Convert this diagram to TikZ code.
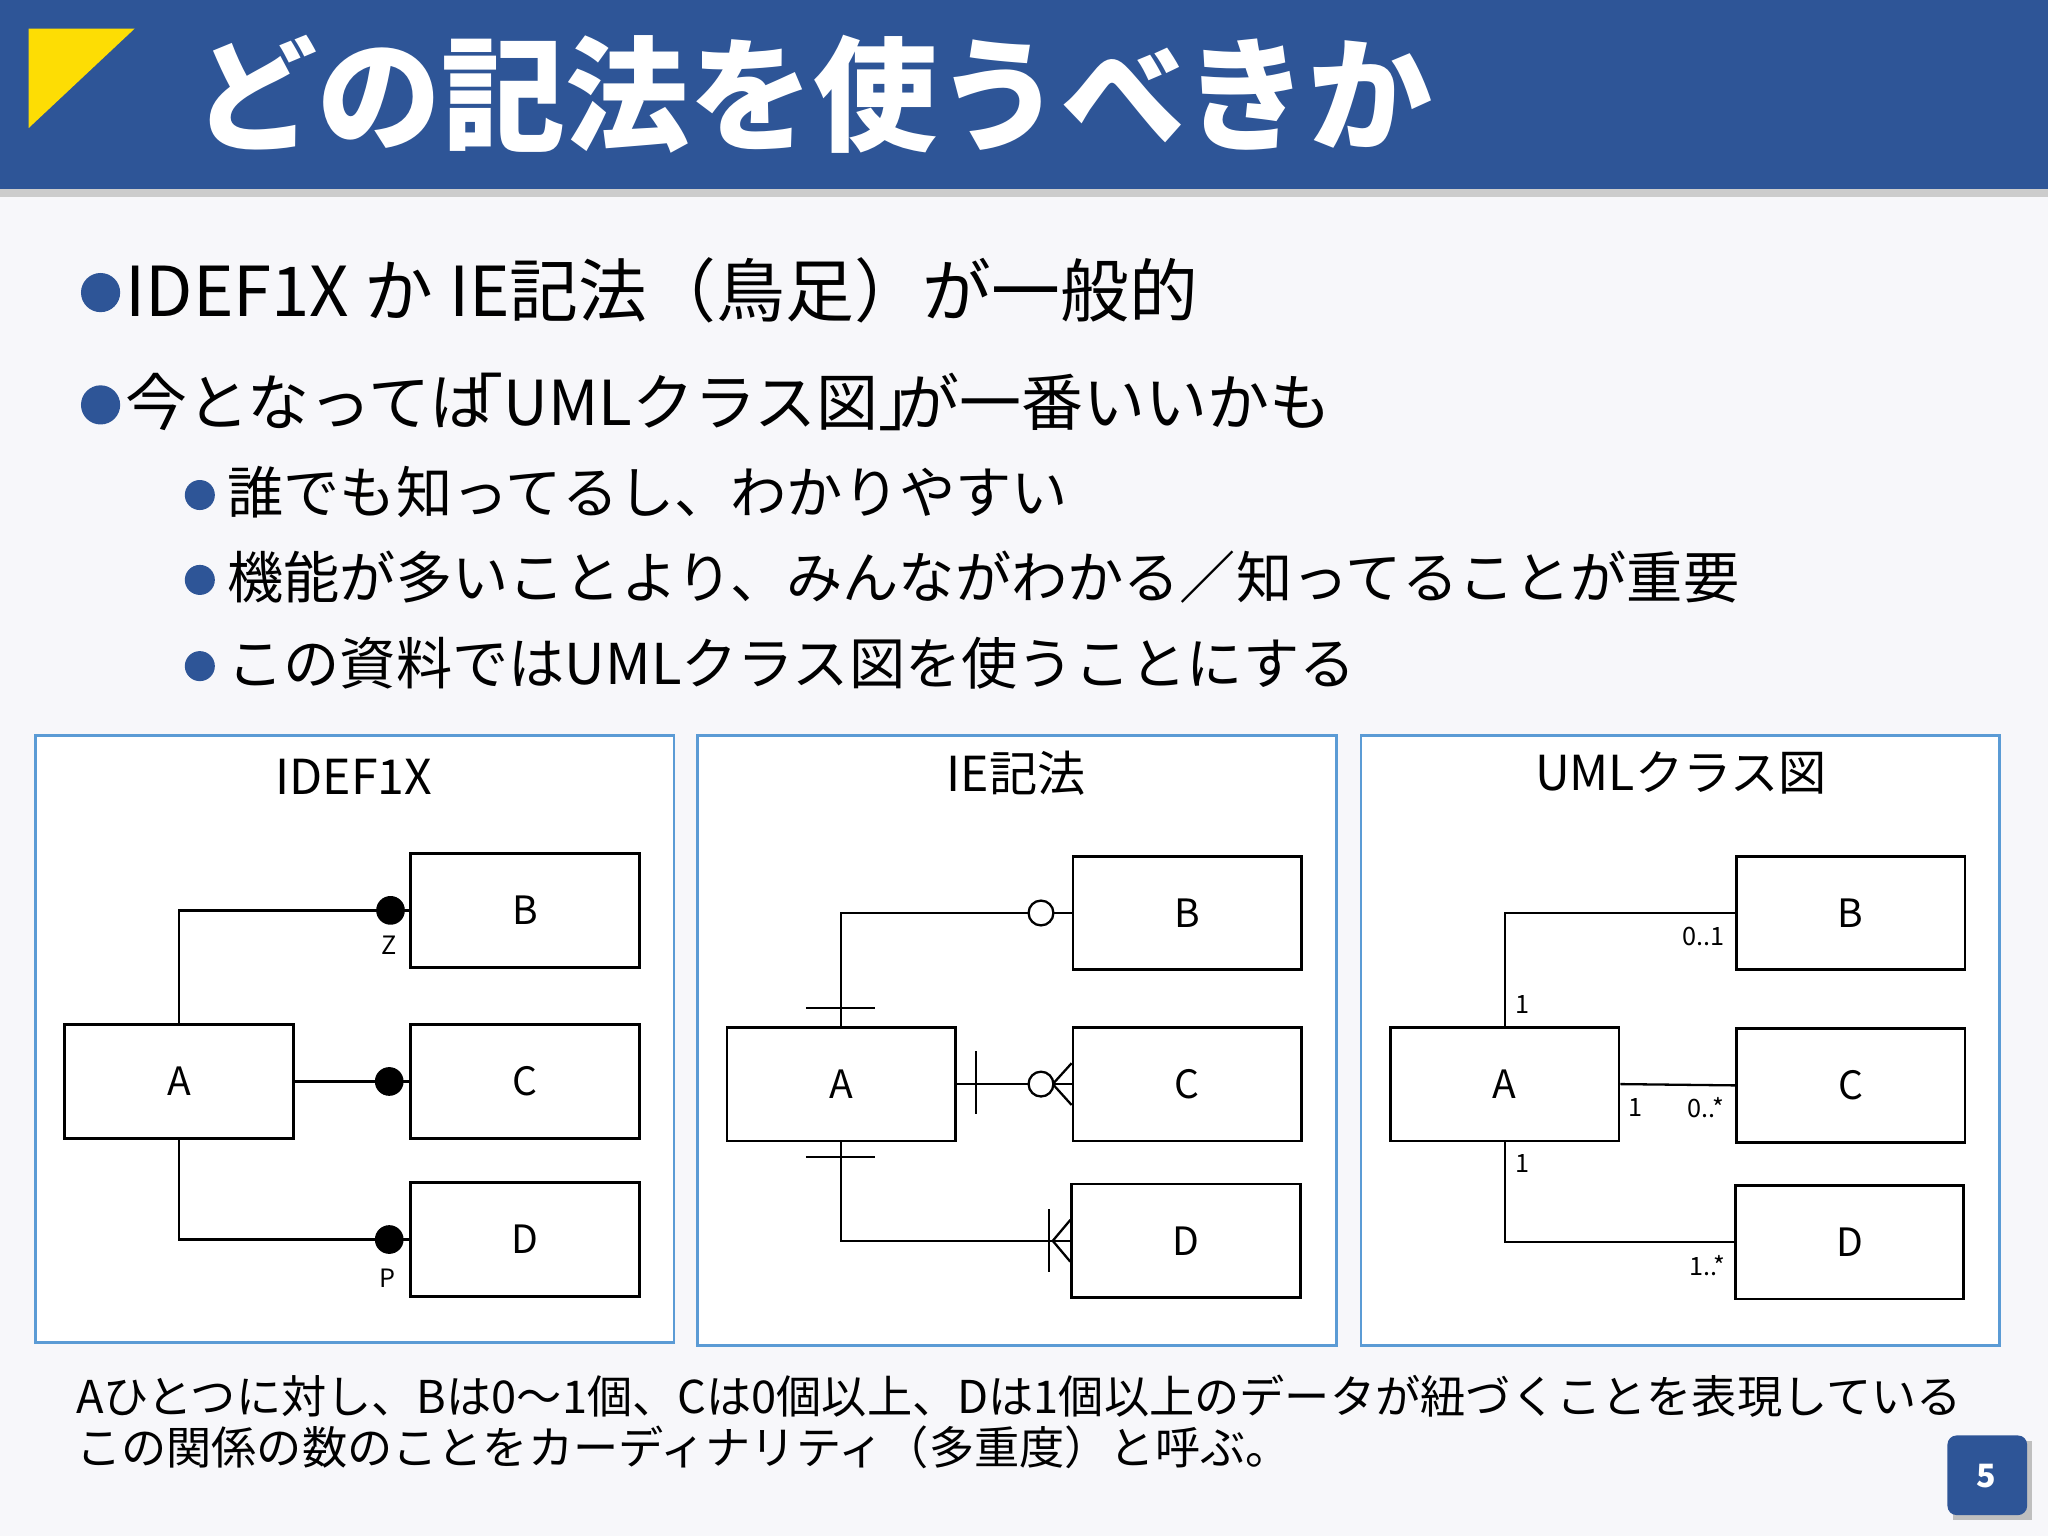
\documentclass[tikz,border=0pt]{standalone}
\usepackage{fontspec}
\setmainfont{Noto Sans CJK JP}
\begin{document}
\begin{tikzpicture}[x=0.02cm,y=-0.02cm,
 box/.style={draw,line width=1.2pt,fill=white,minimum width=3.5cm,minimum height=1.74cm,font=\fontsize{17}{17}\selectfont},
 panel/.style={draw=pb,line width=1.2pt,fill=white},
 ln/.style={line width=1pt},
 lab/.style={font=\fontsize{11}{11}\selectfont},
 dot/.style={circle,fill=black,inner sep=0,minimum size=0.44cm},
 odot/.style={circle,draw,fill=white,line width=1pt,inner sep=0,minimum size=0.38cm},
 bul/.style={circle,fill=hb,inner sep=0},
 ]
\definecolor{hb}{HTML}{2E5597}
\definecolor{pb}{HTML}{5B9BD5}
\definecolor{bg}{HTML}{F7F7FA}
\useasboundingbox (0,0) rectangle (1568,1176);
\fill[bg] (0,0) rectangle (1568,1176);
\fill[gray!40] (0,145) rectangle (1568,151);
\fill[hb] (0,0) rectangle (1568,145);
\fill[yellow!80!orange] (22,22) -- (103,22) -- (22,98) -- cycle;
\node[anchor=west,text=white,font=\fontsize{54}{54}\selectfont\bfseries] (title) at (142,72) {どの記法を使うべきか};
% bullets
\node[bul,minimum size=0.6cm] (b1) at (77,224) {};
\node[anchor=west,font=\fontsize{30}{30}\selectfont] (t1) at (90,222) {IDEF1X か IE記法（鳥足）が一般的};
\node[bul,minimum size=0.6cm] (b2) at (77,310) {};
\node[anchor=west,font=\fontsize{27}{27}\selectfont] (t2) at (90,308) {今となっては\hspace{-0.3em}｢UMLクラス図｣\hspace{-0.2em}が一番いいかも};
\foreach \y/\t [count=\i] in {377/誰でも知ってるし、わかりやすい,442/機能が多いことより、みんながわかる／知ってることが重要,508/この資料ではUMLクラス図を使うことにする}{
 \node[bul,minimum size=0.46cm] (sb\i) at (153,\y+2) {};
 \node[anchor=west,font=\fontsize{24.5}{24.5}\selectfont] (st\i) at (168,\y) {\t};
}
% panels
\draw[panel] (27,563) rectangle (516,1028);
\draw[panel] (534,563) rectangle (1023,1030);
\draw[panel] (1042,563) rectangle (1531,1030);
\node[font=\fontsize{21}{21}\selectfont] (p1) at (271,595) {IDEF1X};
\node[font=\fontsize{21}{21}\selectfont] (p2) at (778,592) {IE記法};
\node[font=\fontsize{21}{21}\selectfont] (p3) at (1287,592) {UMLクラス図};
% panel 1
\node[box] (A1) at (137,828) {A};
\node[box] (B1) at (402,697) {B};
\node[box] (C1) at (402,828) {C};
\node[box] (D1) at (402,949) {D};
\node[dot] (zb) at (299,697) {};
\node[dot] (zc) at (298,828) {};
\node[dot] (zd) at (298,949) {};
\draw[ln] (A1.north) |- (B1.west);
\draw[ln] (A1.east) -- (C1.west);
\draw[ln] (A1.south) |- (D1.west);
\node[lab] (lz) at (298,724) {Z};
\node[lab] (lp) at (297,979) {P};
% panel 2
\node[box] (A2) at (644,830) {A};
\node[box] (B2) at (909,699) {B};
\node[box] (C2) at (909,830) {C};
\node[box] (D2) at (908,950) {D};
\draw[ln] (A2.north) |- (B2.west);
\draw[ln] (A2.east) -- (C2.west);
\draw[ln] (A2.south) |- (D2.west);
\draw[ln] (617,772) -- (670,772);
\draw[ln] (617,886) -- (670,886);
\draw[ln] (747,805) -- (747,853);
\draw[ln] (803,926) -- (803,974);
\coordinate (cf1) at (806,830);
\coordinate (cf2) at (806,950);
\draw[ln] (cf1) -- (C2.west|-0,814) (cf1) -- (C2.west|-0,846);
\draw[ln] (cf2) -- (D2.west|-0,934) (cf2) -- (D2.west|-0,966);
\node[odot] (ob) at (797,699) {};
\node[odot] (oc) at (797,830) {};
% panel 3
\node[box] (A3) at (1152,830) {A};
\node[box] (B3) at (1417,699) {B};
\node[box] (C3) at (1417,831) {C};
\node[box] (D3) at (1416,951) {D};
\draw[ln] (A3.north) |- (B3.west);
\draw[ln] (A3.east) -- (C3.west);
\draw[ln] (A3.south) |- (D3.west);
\node[lab] at (1304,717) {0..1};
\node[lab] at (1166,769) {1};
\node[lab] at (1252,848) {1};
\node[lab] at (1306,848) {0..*};
\node[lab] at (1166,891) {1};
\node[lab] at (1307,969) {1..*};
% bottom text
\node[anchor=west,font=\fontsize{19.7}{19.7}\selectfont] (n1) at (52,1069) {Aひとつに対し、Bは0〜1個、Cは0個以上、Dは1個以上のデータが紐づくことを表現している};
\node[anchor=west,font=\fontsize{19.7}{19.7}\selectfont] (n2) at (52,1108) {この関係の数のことをカーディナリティ（多重度）と呼ぶ。};
\fill[gray!50] (1495,1103) rectangle (1556,1164);
\fill[hb,rounded corners=4pt] (1491,1099) rectangle (1552,1160);
\node[text=white,font=\fontsize{14}{14}\selectfont\bfseries] (pg) at (1521,1130) {5};
\end{tikzpicture}
\end{document}
